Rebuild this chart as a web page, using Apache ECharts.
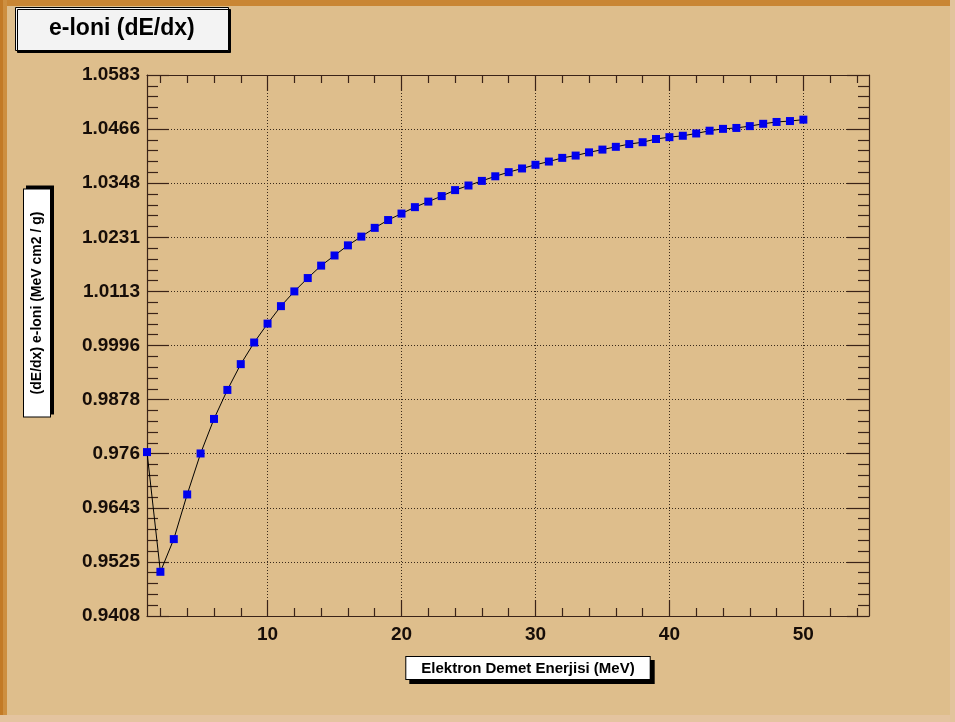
<!DOCTYPE html>
<html>
<head>
<meta charset="utf-8">
<script src="https://cdn.jsdelivr.net/npm/echarts@6/dist/echarts.min.js"></script>
<style>
html,body{margin:0;padding:0;background:#debe8c;}
#chart{width:955px;height:722px;}
</style>
</head>
<body>
<div id="chart"></div>
<script>
// ---- data ----
const energies = [1,2,3,4,5,6,7,8,9,10,11,12,13,14,15,16,17,18,19,20,21,22,23,24,25,26,27,28,29,30,31,32,33,34,35,36,37,38,39,40,41,42,43,44,45,46,47,48,49,50];
const dedx = [0.9764,0.9504,0.9575,0.9672,0.9761,0.9836,0.9899,0.9955,1.0002,1.0043,
              1.0081,1.0113,1.0142,1.0169,1.0191,1.0213,1.0232,1.0251,1.0268,1.0282,
              1.0296,1.0308,1.0320,1.0333,1.0343,1.0353,1.0363,1.0372,1.0380,1.0388,
              1.0395,1.0403,1.0408,1.0415,1.0421,1.0427,1.0433,1.0437,1.0444,1.0448,
              1.0451,1.0456,1.0462,1.0466,1.0468,1.0472,1.0477,1.0481,1.0483,1.0486];
const yTickLabels = ['0.9408','0.9525','0.9643','0.976','0.9878','0.9996','1.0113','1.0231','1.0348','1.0466','1.0583'];
const yMin = 0.9408, yMax = 1.0583, yStep = 0.01175;
const xMin = 1, xMax = 54.9;
const xMajorTicks = [10,20,30,40,50];
const xMinorTicks = [2,4,6,8,12,14,16,18,22,24,26,28,32,34,36,38,42,44,46,48,52,54];
const titleText = 'e-loni (dE/dx)';
const xTitle = 'Elektron Demet Enerjisi (MeV)';
const yTitle = '(dE/dx) e-loni (MeV cm2 / g)';

// ---- style ----
const FONT = 'Liberation Sans';
const axisCol = '#3a2318';
const gridCol = '#3a2a1a';
const labelCol = '#160d08';

const chart = echarts.init(document.getElementById('chart'), null, {renderer:'canvas'});

function xAxisDef(pos, ticks, len, showLine, labels, split, extra) {
  return Object.assign({
    type:'value', position:pos, min:xMin, max:xMax, gridIndex:0,
    axisLine:{show:showLine, onZero:false, lineStyle:{color:axisCol, width:1.2}},
    axisTick:{show:true, inside:true, length:len, customValues:ticks, lineStyle:{color:axisCol, width:1.2}},
    axisLabel:{show:labels, customValues:ticks, margin:9, color:labelCol, fontFamily:FONT, fontWeight:'bold', fontSize:19,
      formatter:(v)=>String(Math.round(v))},
    splitLine:{show:split, lineStyle:{color:gridCol, width:1, type:[1,2]}},
    minorTick:{show:false}
  }, extra||{});
}
function yAxisDef(pos, labels, split, extra) {
  return Object.assign({
    type:'value', position:pos, min:yMin, max:yMax, interval:yStep, gridIndex:0,
    axisLine:{show:true, onZero:false, lineStyle:{color:axisCol, width:1.2}},
    axisTick:{show:true, inside:true, length:22, lineStyle:{color:axisCol, width:1.2}},
    minorTick:{show:true, splitNumber:5, length:11, lineStyle:{color:axisCol, width:1.2}},
    axisLabel:{show:labels, margin:7, color:labelCol, fontFamily:FONT, fontWeight:'bold', fontSize:19,
      formatter:(v)=>yTickLabels[Math.round((v - yMin)/yStep)] || ''},
    splitLine:{show:split, lineStyle:{color:gridCol, width:1, type:[1,2]}},
    minorSplitLine:{show:false}
  }, extra||{});
}

const option = {
  backgroundColor:'#debe8c',
  animation:false,
  title:{
    text:titleText, left:15, top:7,
    padding:[9,34,9,34],
    backgroundColor:'#f3f3f3', borderColor:'#000', borderWidth:1,
    shadowColor:'#000', shadowBlur:0, shadowOffsetX:2, shadowOffsetY:2,
    textStyle:{fontFamily:FONT, fontWeight:'bold', fontSize:23, lineHeight:26, color:'#000'}
  },
  grid:{left:147, top:75, width:722, height:541, containLabel:false, show:false},
  xAxis:[
    xAxisDef('bottom', xMinorTicks, 8, true, false, false),
    xAxisDef('bottom', xMajorTicks, 16, false, true, true, {
      name:'{s| }{b|' + xTitle + '}', nameLocation:'middle', nameGap:43,
      nameTextStyle:{rich:{
        s:{width:40},
        b:{fontFamily:FONT, fontWeight:'bold', fontSize:15, lineHeight:18, color:'#000',
           backgroundColor:'#ffffff', borderColor:'#000', borderWidth:1, padding:[4,15,3,15],
           shadowColor:'#000', shadowBlur:0, shadowOffsetX:4, shadowOffsetY:4}
      }}
    }),
    xAxisDef('top', xMinorTicks, 8, true, false, false),
    xAxisDef('top', xMajorTicks, 16, false, false, false)
  ],
  yAxis:[
    yAxisDef('left', true, true, {
      name:'{s| }{b|' + yTitle + '}', nameLocation:'middle', nameGap:102, nameRotate:90,
      nameTextStyle:{rich:{
        s:{width:85},
        b:{fontFamily:FONT, fontWeight:'bold', fontSize:14, lineHeight:16, color:'#000',
           backgroundColor:'#ffffff', borderColor:'#000', borderWidth:1, padding:[6,22,6,22],
           shadowColor:'#000', shadowBlur:0, shadowOffsetX:3, shadowOffsetY:-3}
      }}
    }),
    yAxisDef('right', false, false)
  ],
  graphic:[
    {type:'rect', z:-10, silent:true, shape:{x:0,y:0,width:955,height:6}, style:{fill:'#c98634'}},
    {type:'rect', z:-10, silent:true, shape:{x:0,y:0,width:7,height:722}, style:{fill:'#cd8f40'}},
    {type:'rect', z:-10, silent:true, shape:{x:0,y:0,width:3,height:722}, style:{fill:'#c27a26'}},
    {type:'rect', z:-10, silent:true, shape:{x:0,y:715,width:955,height:7}, style:{fill:'#e4c4a0'}},
    {type:'rect', z:-10, silent:true, shape:{x:950,y:0,width:5,height:722}, style:{fill:'#e2c49c'}}
  ],
  series:[{
    type:'line', xAxisIndex:0, yAxisIndex:0,
    data: energies.map((e,i)=>[e, dedx[i]]),
    symbol:'rect', symbolSize:8, showAllSymbol:true,
    lineStyle:{color:'#000', width:1},
    itemStyle:{color:'#0000ee'},
    clip:false, z:5
  }]
};
chart.setOption(option);
</script>
</body>
</html>
